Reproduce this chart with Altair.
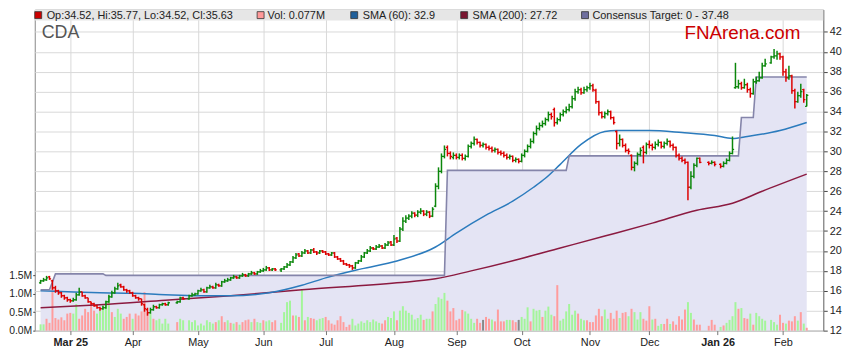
import altair as alt
import pandas as pd
import numpy as np

# ---------------- data ----------------
dates = pd.bdate_range("2025-02-17", "2026-02-12")  # weekday slots on the axis

opens = [
16.8, 17.0, 17.1, 17.4, 17.0, 16.3, 16.0, 15.8, 15.5, 15.3,
15.1, 15.0, 15.1, 15.6, 15.9, 15.5, 15.3, 14.9, 14.7, 14.5,
14.3, 14.2, 14.3, 14.9, 15.4, 15.8, 16.2, 16.6, 16.4, 16.1,
16.0, 15.8, 15.5, 15.3, 15.2, 14.6, 14.1, 13.8, 14.1, 14.4,
14.3, 14.6, 14.7, 14.6, None, None, 14.8, 14.9, 15.3, None,
15.2, 15.5, 15.6, 15.7, 16.0, 16.1, 15.9, 16.3, 16.4, 16.3,
16.6, 16.5, 16.9, 17.0, 17.1, 17.3, 17.4, 17.3, 17.5, 17.6,
17.5, 17.7, 17.8, 17.7, 17.9, 18.0, 18.1, 18.3, 18.1, 18.2,
None, 18.1, 18.2, 18.4, 18.6, 18.9, 19.3, 19.7, 19.5, 19.8,
20.0, 19.8, 20.1, 19.9, 19.8, 20.0, 19.9, 19.7, 19.6, 19.8,
19.4, 19.2, 19.0, 18.7, 18.6, 18.5, 18.3, 18.8, 19.0, 19.4,
19.8, 20.0, 20.3, 20.2, 20.4, 20.5, 20.3, 20.6, 20.9, 20.6,
21.3, 21.0, 22.2, 23.0, 23.3, 23.5, 23.8, 23.6, 23.9, 24.0,
23.7, 23.9, 23.5, 24.5, 26.5, 28.0, 29.5, 30.4, 29.8, 29.4,
29.6, 29.4, 29.6, 29.3, 29.5, 30.5, 30.8, 31.2, 30.9, 30.6,
30.7, 30.4, 30.3, 30.1, 30.2, 29.9, 29.8, 29.6, 29.4, 29.5,
29.1, 29.2, 29.0, 29.6, 30.0, 30.5, 31.0, 31.8, 32.3, 32.6,
32.8, 33.2, 33.7, 34.2, 32.9, 33.2, 33.7, 34.0, 34.2, 34.5,
35.3, 36.0, 36.2, 35.9, 36.2, 36.4, 36.6, 36.1, 35.0, 33.9,
33.5, 33.8, 34.0, 33.4, 32.0, 30.8, 31.2, 30.6, 30.1, 29.6,
28.4, 28.8, 29.7, 30.4, 29.9, 30.7, 30.6, 30.4, 30.7, 30.9,
30.5, 30.8, 31.0, 30.6, 30.4, 29.6, 29.3, 29.1, 28.9, 26.4,
27.5, 28.6, 29.3, None, None, 28.9, 28.8, 28.9, None, 28.7,
28.5, 28.8, 29.1, 29.8, 36.4, 36.5, 36.8, 36.4, 36.7, 36.2,
35.8, 37.0, 37.1, 37.4, 38.6, None, 38.9, 39.5, 39.6, 39.8,
39.5, 38.0, 37.4, 37.6, 36.1, 35.0, 35.6, 36.2, 34.52]

highs = [
17.1, 17.3, 17.5, 17.5, 17.1, 16.5, 16.1, 15.9, 15.6, 15.4,
15.2, 15.3, 15.8, 16.3, 15.9, 15.6, 15.3, 14.9, 14.8, 14.6,
14.4, 14.5, 15.0, 15.6, 16.0, 16.4, 16.8, 16.7, 16.5, 16.2,
16.1, 15.9, 15.6, 15.4, 15.2, 14.7, 14.3, 14.3, 14.6, 14.5,
14.7, 14.8, 14.8, 14.9, None, None, 15.0, 15.4, 15.4, None,
15.6, 15.8, 15.8, 16.1, 16.3, 16.2, 16.4, 16.6, 16.5, 16.8,
16.7, 17.0, 17.2, 17.3, 17.4, 17.6, 17.5, 17.6, 17.8, 17.7,
17.8, 18.0, 17.9, 18.0, 18.2, 18.3, 18.5, 18.4, 18.3, 18.3,
None, 18.3, 18.5, 18.8, 19.0, 19.5, 19.8, 19.8, 20.0, 20.2,
20.1, 20.2, 20.3, 20.0, 20.1, 20.1, 20.0, 19.8, 19.9, 19.9,
19.5, 19.3, 19.1, 18.8, 18.7, 18.6, 18.9, 19.1, 19.6, 19.9,
20.2, 20.5, 20.4, 20.6, 20.7, 20.6, 20.8, 21.0, 21.0, 21.6,
21.4, 22.4, 23.4, 23.6, 23.7, 24.0, 23.9, 24.1, 24.3, 24.1,
24.1, 24.0, 24.4, 26.8, 28.4, 29.8, 30.6, 30.6, 30.0, 29.9,
29.8, 29.8, 29.8, 29.7, 30.7, 31.0, 31.5, 31.3, 31.0, 30.9,
30.8, 30.6, 30.5, 30.4, 30.3, 30.1, 30.0, 29.8, 29.7, 29.6,
29.4, 29.3, 29.8, 30.2, 30.7, 31.3, 32.0, 32.6, 32.9, 33.1,
33.4, 34.0, 33.9, 34.4, 33.4, 33.9, 34.2, 34.5, 34.8, 35.6,
36.3, 36.5, 36.4, 36.5, 36.6, 36.9, 36.8, 36.3, 35.1, 34.0,
34.0, 34.2, 34.1, 33.5, 32.1, 31.7, 31.3, 30.8, 30.3, 29.7,
29.0, 29.9, 30.4, 30.6, 30.9, 31.1, 30.8, 31.0, 31.2, 31.0,
31.0, 31.3, 31.1, 30.8, 30.5, 29.8, 29.5, 29.3, 29.0, 28.0,
28.8, 29.4, 29.4, None, None, 29.0, 29.1, 29.0, None, 28.8,
29.0, 29.3, 30.0, 31.5, 38.9, 37.2, 37.0, 37.3, 36.9, 36.4,
37.3, 37.5, 38.0, 38.9, 39.3, None, 39.6, 40.3, 40.1, 39.9,
39.6, 38.3, 38.6, 37.7, 36.3, 36.0, 36.8, 36.3, 35.77]

lows = [
16.7, 16.9, 17.0, 17.1, 16.1, 15.8, 15.6, 15.3, 15.1, 14.9,
14.8, 14.9, 15.0, 15.5, 15.4, 15.2, 14.8, 14.6, 14.4, 14.2,
14.0, 14.1, 14.2, 14.8, 15.3, 15.7, 16.1, 16.3, 16.0, 15.8,
15.7, 15.4, 15.2, 15.0, 14.5, 13.9, 13.5, 13.7, 14.0, 14.2,
14.2, 14.5, 14.5, 14.5, None, None, 14.7, 14.8, 15.1, None,
15.1, 15.4, 15.5, 15.6, 15.9, 15.8, 15.8, 16.2, 16.2, 16.2,
16.4, 16.4, 16.8, 16.9, 17.0, 17.2, 17.2, 17.2, 17.4, 17.4,
17.4, 17.6, 17.6, 17.6, 17.8, 17.9, 18.0, 18.0, 18.0, 18.0,
None, 17.9, 18.1, 18.3, 18.5, 18.8, 19.2, 19.4, 19.4, 19.7,
19.7, 19.7, 19.8, 19.6, 19.7, 19.8, 19.6, 19.5, 19.5, 19.3,
19.1, 18.9, 18.6, 18.5, 18.3, 18.1, 18.2, 18.7, 18.9, 19.3,
19.7, 19.9, 20.1, 20.1, 20.3, 20.2, 20.2, 20.5, 20.5, 20.5,
20.8, 20.9, 22.0, 22.8, 23.1, 23.3, 23.4, 23.4, 23.7, 23.5,
23.5, 23.3, 23.4, 24.4, 26.2, 27.8, 29.3, 29.5, 29.2, 29.2,
29.2, 29.2, 29.1, 29.1, 29.4, 30.3, 30.6, 30.7, 30.4, 30.4,
30.2, 30.1, 29.9, 29.9, 29.7, 29.6, 29.4, 29.2, 29.2, 28.9,
28.9, 28.8, 28.9, 29.4, 29.9, 30.3, 30.8, 31.6, 32.1, 32.4,
32.6, 33.0, 33.2, 32.5, 32.7, 33.0, 33.5, 33.8, 34.0, 34.3,
35.1, 35.8, 35.7, 35.8, 36.0, 36.2, 36.0, 34.8, 33.6, 33.3,
33.3, 33.6, 33.2, 32.7, 30.2, 30.5, 30.4, 29.9, 29.7, 28.1,
28.0, 28.6, 29.5, 28.8, 29.7, 30.3, 30.1, 30.2, 30.5, 30.3,
30.3, 30.6, 30.4, 30.1, 29.4, 29.1, 28.9, 28.7, 25.1, 26.2,
27.3, 28.4, 28.8, None, None, 28.6, 28.7, 28.5, None, 28.3,
28.4, 28.7, 29.0, 29.7, 36.3, 36.3, 36.2, 36.3, 35.9, 35.4,
35.7, 36.8, 37.0, 37.3, 38.5, None, 38.8, 39.3, 39.2, 39.2,
37.6, 37.0, 37.2, 35.8, 34.3, 34.9, 35.4, 34.9, 34.52]

closes = [
17.0, 17.1, 17.3, 17.2, 16.3, 16.0, 15.8, 15.5, 15.3, 15.1,
15.0, 15.1, 15.6, 15.9, 15.5, 15.3, 14.9, 14.7, 14.5, 14.3,
14.2, 14.3, 14.9, 15.4, 15.8, 16.2, 16.5, 16.4, 16.1, 16.0,
15.8, 15.5, 15.3, 15.2, 14.7, 14.2, 13.8, 14.1, 14.4, 14.3,
14.6, 14.7, 14.6, 14.8, None, None, 14.9, 15.3, 15.2, None,
15.5, 15.6, 15.7, 16.0, 16.1, 15.9, 16.3, 16.4, 16.3, 16.6,
16.5, 16.9, 17.0, 17.1, 17.3, 17.4, 17.3, 17.5, 17.6, 17.5,
17.7, 17.8, 17.7, 17.9, 18.0, 18.1, 18.3, 18.1, 18.2, 18.1,
None, 18.2, 18.4, 18.6, 18.9, 19.3, 19.6, 19.5, 19.8, 20.0,
19.8, 20.1, 19.9, 19.8, 20.0, 19.9, 19.7, 19.6, 19.8, 19.4,
19.2, 19.0, 18.7, 18.6, 18.5, 18.3, 18.8, 19.0, 19.4, 19.8,
20.0, 20.3, 20.2, 20.4, 20.5, 20.3, 20.6, 20.8, 20.6, 21.2,
21.0, 22.2, 23.0, 23.3, 23.5, 23.8, 23.6, 23.9, 24.0, 23.7,
23.9, 23.5, 24.2, 26.5, 28.0, 29.5, 30.2, 29.8, 29.5, 29.6,
29.4, 29.6, 29.3, 29.5, 30.5, 30.8, 31.2, 30.9, 30.6, 30.7,
30.4, 30.3, 30.1, 30.2, 29.9, 29.8, 29.6, 29.4, 29.5, 29.1,
29.2, 29.0, 29.6, 30.0, 30.5, 31.0, 31.8, 32.3, 32.6, 32.8,
33.2, 33.7, 33.5, 32.9, 33.2, 33.7, 34.0, 34.2, 34.5, 35.3,
36.0, 36.2, 35.9, 36.2, 36.4, 36.6, 36.2, 35.0, 33.9, 33.5,
33.8, 34.0, 33.4, 32.9, 30.8, 31.2, 30.6, 30.1, 30.0, 28.4,
28.8, 29.7, 30.1, 29.9, 30.7, 30.6, 30.4, 30.7, 30.9, 30.5,
30.8, 31.0, 30.6, 30.4, 29.6, 29.3, 29.1, 28.9, 26.4, 27.5,
28.6, 29.3, 28.9, None, None, 28.8, 28.9, 28.7, None, 28.5,
28.8, 29.1, 29.8, 30.2, 36.5, 36.8, 36.4, 36.7, 36.2, 35.8,
37.0, 37.1, 37.4, 38.6, 38.8, None, 39.5, 39.6, 39.8, 39.5,
38.0, 37.4, 37.6, 36.1, 35.0, 35.6, 36.0, 35.2, 35.63]

# volume in millions of shares
volumes = [
0.17, 0.17, 0.32, 0.21, 1.20, 0.34, 0.30, 0.36, 0.28, 0.46,
0.48, 0.46, 0.72, 0.32, 0.41, 0.59, 0.50, 0.79, 0.54, 0.46,
0.54, 0.68, 0.81, 0.95, 0.50, 0.37, 0.59, 0.46, 0.32, 0.37,
0.46, 0.32, 0.46, 0.41, 0.52, 1.04, 0.50, 0.46, 0.32, 0.28,
0.32, 0.19, 0.32, 0.19, None, None, 0.23, 0.32, 0.28, None,
0.28, 0.23, 0.28, 0.14, 0.19, 0.14, 0.28, 0.23, 0.19, 0.23,
0.28, 0.39, 0.23, 0.28, 0.21, 0.19, 0.23, 0.16, 0.23, 0.28,
0.30, 0.23, 0.32, 0.23, 0.21, 0.28, 0.25, 0.28, 0.23, 0.28,
None, 0.21, 0.50, 0.77, 0.81, 0.41, 0.41, 0.37, 1.10, 0.28,
0.37, 0.34, 0.32, 0.28, 0.32, 0.34, 0.37, 0.28, 0.19, 0.16,
0.28, 0.39, 0.23, 0.10, 0.16, 0.32, 0.14, 0.19, 0.25, 0.21,
0.28, 0.23, 0.30, 0.25, 0.21, 0.19, 0.28, 0.37, 0.34, 0.52,
0.28, 0.54, 0.66, 0.54, 0.48, 0.43, 0.30, 0.34, 0.43, 0.29,
0.32, 0.32, 0.52, 0.72, 0.90, 0.86, 1.02, 0.81, 0.52, 0.61,
0.28, 0.32, 0.56, 0.52, 0.46, 0.32, 0.21, 0.32, 0.21, 0.29,
0.37, 0.32, 0.30, 0.25, 0.57, 0.25, 0.25, 0.29, 0.29, 0.28,
0.23, 0.29, 0.37, 0.32, 0.63, 0.25, 0.59, 0.54, 0.56, 0.37,
0.54, 0.65, 0.43, 0.39, 1.23, 0.27, 0.32, 0.52, 0.72, 0.43,
0.54, 0.46, 0.32, 0.28, 0.28, 0.23, 0.23, 0.41, 0.59, 0.39,
0.57, 0.32, 0.48, 0.32, 0.54, 0.34, 0.48, 0.50, 0.39, 0.59,
0.50, 0.30, 0.50, 0.32, 0.27, 0.66, 0.30, 0.32, 0.13, 0.18,
0.18, 0.32, 0.18, 0.25, 0.16, 0.39, 0.30, 0.57, 0.77, 0.48,
0.30, 0.16, 0.16, None, None, 0.13, 0.29, 0.16, None, 0.10,
0.14, 0.21, 0.29, 0.39, 0.77, 0.59, 0.61, 0.34, 0.32, 0.46,
0.16, 0.48, 0.39, 0.32, 0.27, None, 0.29, 0.23, 0.16, 0.43,
0.21, 0.19, 0.27, 0.25, 0.39, 0.27, 0.50, 0.19, 0.077]

# colour class of each volume bar: u = up day, d = down day, n = unchanged
vol_dir = [
"u","u","d","d","d","d","d","d","d","d",
"d","u","u","d","d","d","d","d","d","u",
"u","u","u","u","d","u","u","u","d","d",
"d","u","d","d","d","d","d","u","d","u",
"u","u","u","u",None,None,"d","u","u",None,
"u","u","u","u","u","u","u","u","u","d",
"u","d","d","u","d","u","d","u","d","d",
"d","u","d","u","u","d","u","u","d","d",
None,"u","u","u","u","d","u","d","u","d",
"u","d","d","u","u","u","d","d","d","d",
"d","d","d","d","d","u","u","u","u","u",
"u","u","u","u","u","d","d","u","u","u",
"d","u","u","u","u","u","u","u","u","d",
"u","u","d","u","u","u","u","d","d","d",
"d","d","d","u","u","u","u","d","d","n",
"d","d","u","d","d","d","d","u","u","d",
"d","n","u","u","u","d","u","u","u","d",
"u","u","u","d","d","u","u","u","u","u",
"u","d","u","u","d","d","d","d","d","d",
"u","u","d","d","d","u","d","d","u","d",
"u","u","u","d","d","d","u","d","u","u",
"d","d","u","d","d","d","d","d","u","u",
"d","d","d",None,None,"d","d","d",None,"u",
"d","u","u","u","u","d","u","d","d","u",
"d","u","u","u","u",None,"u","u","u","d",
"d","u","d","d","d","u","d","u","d"]

sma60_i = [0, 9, 20, 31, 42, 53, 64, 77, 88, 96, 108, 120, 133, 140, 150, 159, 166, 170,
           175, 182, 190, 194, 205, 216, 227, 233, 238, 249, 258]
sma60_v = [16.0, 15.9, 15.8, 15.75, 15.6, 15.5, 15.5, 15.8, 16.55, 17.3, 18.2, 19.0, 20.4,
           21.8, 23.6, 25.0, 26.4, 27.3, 28.7, 30.7, 32.0, 32.1, 32.1, 31.9, 31.6, 31.3,
           31.5, 32.1, 32.9]

sma200_i = [0, 20, 42, 64, 88, 120, 133, 145, 160, 175, 190, 206, 221, 233, 243, 258]
sma200_v = [14.3, 14.6, 15.05, 15.5, 16.1, 16.8, 17.2, 18.0, 19.1, 20.3, 21.5, 22.8,
            24.1, 24.8, 26.0, 27.72]

target_i = [0, 3, 5, 21, 22, 136, 137, 177, 178, 235, 236, 240, 241, 258]
target_v = [16.1, 16.1, 17.7, 17.7, 17.55, 17.55, 28.1, 28.1, 29.55, 29.55, 33.4, 33.4,
            37.48, 37.48]

month_labels = ["Mar 25", "Apr", "May", "Jun", "Jul", "Aug", "Sep", "Oct", "Nov",
                "Dec", "Jan 26", "Feb"]
price_ticks = list(range(12, 43, 2))
vol_ticks = [0, 0.5, 1.0, 1.5]

legend_texts = ["Op:34.52, Hi:35.77, Lo:34.52, Cl:35.63", "Vol: 0.077M",
                "SMA (60): 32.9", "SMA (200): 27.72", "Consensus Target: 0 - 37.48"]
legend_colors = ["#cc0000", "#ff9999", "#1f5f9a", "#7a1530", "#6f6f9f"]

# ---------------- frames ----------------
n = len(dates)
df = pd.DataFrame({"i": np.arange(n), "open": opens, "high": highs, "low": lows,
                   "close": closes, "vol": volumes, "vdir": vol_dir})
price = df.dropna(subset=["close"]).copy()
price["dir"] = np.where(price["close"] >= price["open"], "up", "down")
vol = df.dropna(subset=["vol"]).copy()

tick_pos = [k for k in range(1, n) if dates[k].month != dates[k - 1].month]
year_ticks = [tick_pos[0], tick_pos[10]]

sma60 = pd.DataFrame({"i": sma60_i, "v": sma60_v})
sma200 = pd.DataFrame({"i": sma200_i, "v": sma200_v})
target = pd.DataFrame({"i": target_i, "v": target_v})

W, H = 796, 324
FONT = "Liberation Sans"
xscale = alt.Scale(domain=[-0.3, 261.9], nice=False, zero=False)
pscale = alt.Scale(domain=[12, 12 + H / 10.05], nice=False, zero=False)
vscale = alt.Scale(domain=[0, H / 37.33], nice=False, zero=False)

label_expr = "[" + ",".join("'%s'" % s for s in month_labels) + "][indexof([" + \
    ",".join(str(t) for t in tick_pos) + "], datum.value)]"
xaxis = alt.Axis(values=tick_pos, labelExpr=label_expr, grid=True, gridColor="#d9d9d9",
                 tickSize=4, tickColor="#777", domain=False, labelFontSize=11,
                 labelFont=FONT, labelColor="#222", labelPadding=2, title=None,
                 labelFlush=False,
                 labelFontWeight={"condition": {"test": "datum.value == %d || datum.value == %d" % tuple(year_ticks),
                                                "value": "bold"}, "value": "normal"})
X = alt.X("i:Q", scale=xscale, axis=xaxis)

paxis = alt.Axis(orient="right", values=price_ticks, grid=True, gridColor="#d9d9d9",
                 tickSize=4, tickColor="#444", domainColor="#888", labelFontSize=11,
                 labelFont=FONT, labelColor="#222", labelPadding=2, title=None)
vaxis = alt.Axis(orient="left", values=vol_ticks, grid=False, tickSize=2,
                 tickColor="#444", domain=False, labelFontSize=10.5, labelFont=FONT,
                 labelColor="#222", labelPadding=1, title=None,
                 labelExpr="format(datum.value, '.1f') + 'M'")

area = alt.Chart(target).mark_area(color="#e4e4f4", opacity=1).encode(
    x=X, y=alt.Y("v:Q", scale=pscale, axis=paxis), y2=alt.datum(12))

vbars = alt.Chart(vol).mark_bar(size=2).encode(
    x=X, y=alt.Y("vol:Q", scale=vscale, axis=vaxis),
    color=alt.Color("vdir:N", scale=alt.Scale(domain=["u", "d", "n"],
                    range=["#a3f59a", "#ff9c9c", "#888888"]), legend=None))

tline = alt.Chart(target).mark_line(color="#8585aa", strokeWidth=1.6).encode(
    x=X, y=alt.Y("v:Q", scale=pscale, axis=None))
s200 = alt.Chart(sma200).mark_line(color="#8b1a40", strokeWidth=1.5, interpolate="monotone").encode(
    x=X, y=alt.Y("v:Q", scale=pscale, axis=None))
s60 = alt.Chart(sma60).mark_line(color="#2b7bbd", strokeWidth=1.5, interpolate="monotone").encode(
    x=X, y=alt.Y("v:Q", scale=pscale, axis=None))

pcolor = alt.Color("dir:N", scale=alt.Scale(domain=["up", "down"], range=["#0b870b", "#dd0000"]),
                   legend=None)
hl = alt.Chart(price).mark_rule(strokeWidth=1.5).encode(
    x=X, y=alt.Y("low:Q", scale=pscale, axis=None), y2="high:Q", color=pcolor)
otick = alt.Chart(price).transform_calculate(xo="datum.i - 0.55").mark_rule(strokeWidth=1.3).encode(
    x=alt.X("xo:Q", scale=xscale, axis=xaxis), x2="i:Q",
    y=alt.Y("open:Q", scale=pscale, axis=None), color=pcolor)
ctick = alt.Chart(price).transform_calculate(xc="datum.i + 0.55").mark_rule(strokeWidth=1.3).encode(
    x=X, x2="xc:Q", y=alt.Y("close:Q", scale=pscale, axis=None), color=pcolor)

one = pd.DataFrame({"a": [0]})
band = alt.Chart(one).mark_rect(color="#e6e6e6").encode(
    x=alt.value(0), x2=alt.value(W), y=alt.value(0), y2=alt.value(11))

leg_x_sq = [3.5, 228, 322.5, 433.5, 555.5]
leg_x_tx = [12, 235, 331, 442, 563]
leg = pd.DataFrame({"t": legend_texts, "c": legend_colors, "xs": leg_x_sq, "xt": leg_x_tx})
legsq = alt.Chart(leg).mark_square(size=49, opacity=1, stroke="#333", strokeWidth=0.8).encode(
    x=alt.X("xs:Q", scale=None, axis=None), y=alt.value(5.5),
    color=alt.Color("c:N", scale=None, legend=None))
legtx = alt.Chart(leg).mark_text(align="left", baseline="middle", font=FONT, fontSize=11,
                                 color="#222").encode(
    x=alt.X("xt:Q", scale=None, axis=None), y=alt.value(6), text="t:N")

cda = alt.Chart(one).mark_text(text="CDA", align="left", baseline="middle", font=FONT,
                               fontSize=18, color="#555555").encode(x=alt.value(7), y=alt.value(24))
fna = alt.Chart(one).mark_text(text="FNArena.com", align="right", baseline="middle", font=FONT,
                               fontSize=19, color="#cc0000").encode(x=alt.value(773), y=alt.value(24))

chart = alt.layer(area, vbars, s200, s60, tline, hl, otick, ctick, band, legsq, legtx, cda, fna).resolve_scale(
    y="independent", color="independent").properties(
    width=W, height=H, autosize=alt.AutoSizeParams(type="none"),
    padding={"left": 27, "top": 0, "right": 28, "bottom": 31},
    background="white").configure_view(stroke="#888888", strokeWidth=1)

chart.save("out.html", embed_options={"renderer": "svg", "actions": False})
